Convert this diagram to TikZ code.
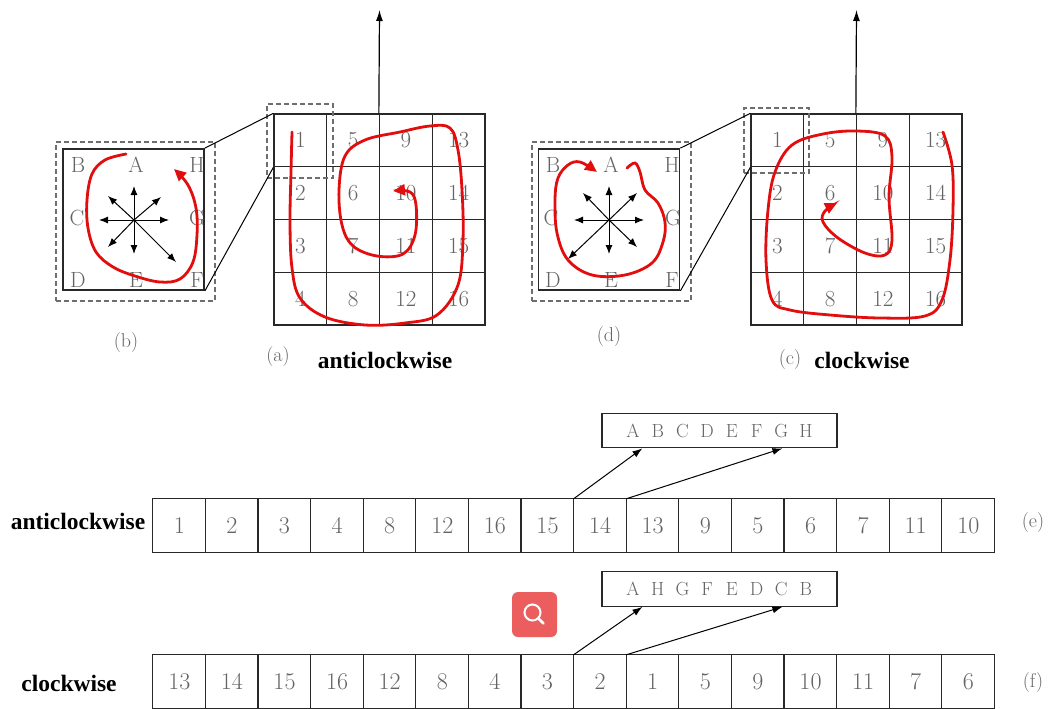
\documentclass[tikz,border=0pt]{standalone}
\usepackage{fontspec}
\newfontfamily\capserif{Liberation Serif}
\usetikzlibrary{arrows.meta,calc}
\definecolor{redline}{RGB}{226,14,14}
\definecolor{txtgray}{RGB}{100,100,100}
\definecolor{gridline}{RGB}{40,40,40}
\definecolor{dashgray}{RGB}{110,110,110}
\definecolor{iconred}{RGB}{236,94,94}
\newcommand{\ltr}[1]{\makebox[24.7pt]{#1}}
\begin{document}
\begin{tikzpicture}[x=1pt,y=-1pt,
  cell/.style={draw=gridline, line width=1.3pt, minimum width=52.75pt, minimum height=52.75pt, inner sep=0pt, text=txtgray, font=\fontsize{23}{25}\selectfont},
  rowcell/.style={minimum width=52.6pt, minimum height=53pt, inner sep=0pt, text=txtgray, font=\fontsize{24}{26}\selectfont},
  rowline/.style={draw=gridline, line width=1.3pt},
  sqbox/.style={draw=gridline, line width=1.8pt, minimum width=141pt, minimum height=141pt, inner sep=0pt},
  dashbox/.style={draw=dashgray, line width=1.3pt, dash pattern=on 5pt off 3pt, inner sep=0pt},
  lbl/.style={text=txtgray, font=\fontsize{22}{24}\selectfont, inner sep=0pt},
  captxt/.style={text=txtgray, font=\fontsize{20}{22}\selectfont, inner sep=0pt},
  boldcap/.style={text=black, font=\capserif\bfseries\fontsize{23.5}{26}\selectfont, inner sep=0pt},
  star/.style={-{Latex[length=9pt,width=7pt]}, line width=1pt, black},
  redpath/.style={draw=redline, line width=2.8pt, line cap=round, -{Triangle[length=12pt,width=11pt]}},
  conn/.style={line width=1pt, black},
  upar/.style={-{Latex[length=11pt,width=7pt]}, line width=1.2pt, black},
  ptr/.style={-{Latex[length=10pt,width=7pt]}, line width=1pt, black},
  lettbox/.style={draw=gridline, line width=1.2pt, minimum width=235pt, minimum height=34.5pt, inner sep=0pt, text=txtgray, font=\fontsize{19}{21}\selectfont}
]
\useasboundingbox (0,0) rectangle (1055,709);

% ---------- grid (a) ----------
\foreach \i in {0,...,3}{
  \foreach \j in {0,...,3}{
    \pgfmathtruncatemacro\n{4*\i+\j+1}
    \node[cell] (a\n) at ({274+52.75*(\i+0.5)},{114+52.75*(\j+0.5)}) {\n};
  }
}
\coordinate (atop) at (379.5,10);
\draw[upar] (a9.north west) -- (atop);
\node[dashbox, minimum width=66pt, minimum height=74pt] (adash) at (300,141) {};

% ---------- grid (c) ----------
\foreach \i in {0,...,3}{
  \foreach \j in {0,...,3}{
    \pgfmathtruncatemacro\n{4*\i+\j+1}
    \node[cell] (c\n) at ({751+52.75*(\i+0.5)},{114+52.75*(\j+0.5)}) {\n};
  }
}
\coordinate (ctop) at (856.5,10);
\draw[upar] (c9.north west) -- (ctop);
\node[dashbox, minimum width=65pt, minimum height=65pt] (cdash) at (776.5,140.5) {};

% ---------- box (b) ----------
\node[dashbox, minimum width=159pt, minimum height=159pt] (bdash) at (135.5,221.5) {};
\node[sqbox] (bsq) at (133.5,219.5) {};
\draw[conn] (bsq.north east) -- (a1.north west);
\draw[conn] (bsq.south east) -- (a1.south west);
\node[lbl] (bB) at (78,165) {B};
\node[lbl] (bA) at (136,165) {A};
\node[lbl] (bH) at (197,165) {H};
\node[lbl] (bC) at (77,218) {C};
\node[lbl] (bG) at (197,218) {G};
\node[lbl] (bD) at (78,280) {D};
\node[lbl] (bE) at (136,280) {E};
\node[lbl] (bF) at (197,280) {F};
\coordinate (bc) at (134,220);
\draw[star] (bc) -- (134,186);
\draw[star] (bc) -- (134,254);
\draw[star] (bc) -- (99,220);
\draw[star] (bc) -- (169,220);
\draw[star] (bc) -- (108,196);
\draw[star] (bc) -- (161,197);
\draw[star] (bc) -- (108,247);
\draw[star] (bc) -- (176,262);

% ---------- box (d) ----------
\node[dashbox, minimum width=159pt, minimum height=159pt] (ddash) at (611.5,221.5) {};
\node[sqbox] (dsq) at (609,219.5) {};
\draw[conn] (dsq.north east) -- (c1.north west);
\draw[conn] (dsq.south east) -- (c1.south west);
\node[lbl] (dB) at (553,165) {B};
\node[lbl] (dA) at (611,165) {A};
\node[lbl] (dH) at (672,165) {H};
\node[lbl] (dC) at (551,218) {C};
\node[lbl] (dG) at (673,218) {G};
\node[lbl] (dD) at (553,280) {D};
\node[lbl] (dE) at (611,280) {E};
\node[lbl] (dF) at (672,280) {F};
\coordinate (dc) at (609,220);
\draw[star] (dc) -- (609,186);
\draw[star] (dc) -- (609,254);
\draw[star] (dc) -- (574,220);
\draw[star] (dc) -- (644,220);
\draw[star] (dc) -- (583,193);
\draw[star] (dc) -- (637,193);
\draw[star] (dc) -- (568,259);
\draw[star] (dc) -- (637,247);

% ---------- red curves ----------
\draw[redpath] plot[smooth, tension=0.6] coordinates {(126,154) (105,160) (92,174) (87,200) (88,228) (96,252) (113,267) (135,276) (160,282) (180,279) (193,262) (197,235) (196,208) (188,185) (174,169)};
\draw[redpath] plot[smooth, tension=0.6] coordinates {(627,168) (635,163) (640,172) (645,190) (658,203) (665,222) (663,242) (652,263) (625,275) (592,275) (568,260) (557,233) (555,200) (558,178) (568,165) (580,162) (597,172)};
\draw[redpath] plot[smooth, tension=0.6] coordinates {(292,132) (291,172) (290,223) (292,268) (300,298) (325,317) (365,325) (405,323) (437,315) (458,285) (463,240) (462,190) (458,150) (450,128) (430,126) (400,132) (365,140) (345,156) (339,190) (342,225) (353,246) (377,256) (403,254) (415,235) (416,205) (410,192) (393,191)};
\draw[redpath] plot[smooth, tension=0.6] coordinates {(943,132) (952,165) (953,210) (950,260) (942,300) (925,316) (880,318) (830,315) (790,310) (772,300) (766,260) (768,210) (775,172) (792,145) (823,134) (857,131) (885,136) (892,157) (889,197) (892,240) (885,255) (865,253) (838,238) (823,222) (825,211) (837,203)};

% ---------- captions ----------
\node[captxt] (capb) at (126,343) {(b)};
\node[captxt] (capa) at (278,357) {(a)};
\node[boldcap] (capaw) at (385,360) {anticlockwise};
\node[captxt] (capd) at (609,337) {(d)};
\node[captxt] (capc) at (790,360) {(c)};
\node[boldcap] (capcw) at (862,360) {clockwise};

% ---------- row (e) ----------
\node[boldcap] (elab) at (78,521) {anticlockwise};
\foreach [count=\k] \v in {1,2,3,4,8,12,16,15,14,13,9,5,6,7,11,10}
  \node[rowcell] (e\k) at ({153+52.6*(\k-0.5)},525.5) {\v};
\draw[rowline] (e1.north west) rectangle (e16.south east);
\foreach \k in {2,...,16} \draw[rowline] (e\k.north west) -- (e\k.south west);
\node[captxt] (etag) at (1033,523) {(e)};
\node[lettbox] (ebox) at (719.5,430.5) {\ltr{A}\ltr{B}\ltr{C}\ltr{D}\ltr{E}\ltr{F}\ltr{G}\ltr{H}};
\draw[ptr] (e9.north west) -- ($(ebox.south west)+(41,0)$);
\draw[ptr] (e10.north west) -- ($(ebox.south west)+(181,0)$);

% ---------- row (f) ----------
\node[boldcap] (flab) at (69,683) {clockwise};
\foreach [count=\k] \v in {13,14,15,16,12,8,4,3,2,1,5,9,10,11,7,6}
  \node[rowcell] (f\k) at ({153+52.6*(\k-0.5)},681.5) {\v};
\draw[rowline] (f1.north west) rectangle (f16.south east);
\foreach \k in {2,...,16} \draw[rowline] (f\k.north west) -- (f\k.south west);
\node[captxt] (ftag) at (1033,683) {(f)};
\node[lettbox] (fbox) at (719.5,589) {\ltr{A}\ltr{H}\ltr{G}\ltr{F}\ltr{E}\ltr{D}\ltr{C}\ltr{B}};
\draw[ptr] (f9.north west) -- ($(fbox.south west)+(41,0)$);
\draw[ptr] (f10.north west) -- ($(fbox.south west)+(181,0)$);

% ---------- magnifier icon ----------
\node[fill=iconred, rounded corners=6pt, minimum width=45pt, minimum height=45pt, inner sep=0pt] (mag) at (534.5,614.5) {};
\draw[white, line width=2pt] ($(mag.center)+(-2,-2)$) circle[radius=8pt];
\draw[white, line width=2.6pt, line cap=round] ($(mag.center)+(4.5,4.5)$) -- ($(mag.center)+(9,9)$);
\end{tikzpicture}
\end{document}
